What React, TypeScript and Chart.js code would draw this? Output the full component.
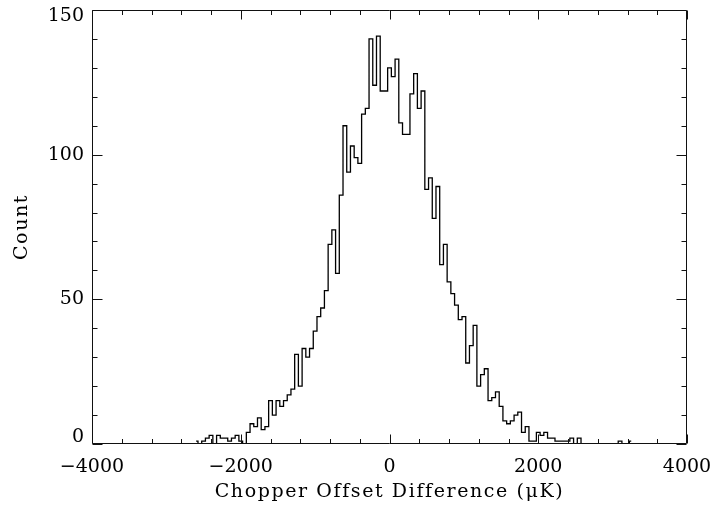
import React, { useEffect, useRef } from 'react';
import { Chart, registerables } from 'chart.js';

Chart.register(...registerables);

// Bin centres (µK) and counts
const binCenters = [
  -2600, -2550, -2500, -2450, -2400, -2350, -2300, -2250, -2200, -2150,
  -2100, -2050, -2000, -1950, -1900, -1850, -1800, -1750, -1700, -1650,
  -1600, -1550, -1500, -1450, -1400, -1350, -1300, -1250, -1200, -1150,
  -1100, -1050, -1000, -950, -900, -850, -800, -750, -700, -650,
  -600, -550, -500, -450, -400, -350, -300, -250, -200, -150,
  -100, -50, 0, 50, 100, 150, 200, 250, 300, 350,
  400, 450, 500, 550, 600, 650, 700, 750, 800, 850,
  900, 950, 1000, 1050, 1100, 1150, 1200, 1250, 1300, 1350,
  1400, 1450, 1500, 1550, 1600, 1650, 1700, 1750, 1800, 1850,
  1900, 1950, 2000, 2050, 2100, 2150, 2200, 2250, 2300, 2350,
  2400, 2450, 2500, 2550, 2600, 2650, 2700, 2750, 2800, 2850,
  2900, 2950, 3000, 3050, 3100, 3150, 3200, 3250,
];

const counts = [
  1, 0, 1, 2, 3, 0, 3, 2, 2, 1,
  2, 3, 1, 0, 4, 7, 6, 9, 5, 6,
  15, 10, 15, 13, 15, 17, 19, 31, 20, 33,
  30, 33, 39, 44, 47, 53, 69, 74, 59, 86,
  110, 94, 103, 99, 97, 114, 116, 140, 124, 141,
  122, 122, 130, 127, 133, 111, 107, 107, 121, 128,
  116, 122, 88, 92, 78, 89, 62, 69, 56, 52,
  48, 43, 44, 28, 34, 41, 20, 24, 26, 15,
  16, 18, 13, 8, 7, 8, 10, 11, 4, 6,
  1, 1, 4, 3, 4, 2, 2, 1, 1, 1,
  1, 2, 0, 2, 0, 0, 0, 0, 0, 0,
  0, 0, 0, 0, 1, 0, 0, 1,
];

const xTicks = [-4000, -2000, 0, 2000, 4000];
const yTicks = [0, 50, 100, 150];
const xMinorStep = 400;
const yMinorStep = 10;
const xTitle = 'Chopper Offset Difference (\u03BCK)';
const yTitle = 'Count';

const FONT = '"DejaVu Serif", serif';

const framePlugin = {
  id: 'idlFrame',
  afterDatasetsDraw(chart: any) {
    const { ctx, chartArea: a, scales } = chart;
    const xs = scales.x;
    const ys = scales.y;
    const L = Math.round(a.left) + 0.5;
    const R = Math.round(a.right) - 0.5;
    const T = Math.round(a.top) + 0.5;
    const B = Math.round(a.bottom) - 0.5;
    ctx.save();
    ctx.strokeStyle = '#111';
    ctx.lineWidth = 1;
    ctx.beginPath();
    ctx.rect(L, T, R - L, B - T);
    // x ticks (bottom and top, inward)
    for (let v = xs.min; v <= xs.max + 1e-6; v += xMinorStep) {
      const major = xTicks.includes(v);
      const len = major ? 9 : 4.5;
      const px = Math.round(xs.getPixelForValue(v)) + 0.5;
      ctx.moveTo(px, B);
      ctx.lineTo(px, B - len);
      ctx.moveTo(px, T);
      ctx.lineTo(px, T + len);
    }
    // y ticks (left and right, inward)
    for (let v = ys.min; v <= ys.max + 1e-6; v += yMinorStep) {
      const major = yTicks.includes(v);
      const len = major ? 10 : 5;
      const py = Math.round(ys.getPixelForValue(v)) + 0.5;
      ctx.moveTo(L, py);
      ctx.lineTo(L + len, py);
      ctx.moveTo(R, py);
      ctx.lineTo(R - len, py);
    }
    ctx.stroke();

    ctx.fillStyle = '#000';
    ctx.font = `19px ${FONT}`;

    // y tick labels, kept inside the frame's vertical extent (IDL style)
    ctx.textAlign = 'right';
    ctx.textBaseline = 'middle';
    for (const v of yTicks) {
      const py = ys.getPixelForValue(v);
      const y = Math.min(Math.max(py, a.top + 6), a.bottom - 7);
      ctx.fillText(String(v), a.left - 8, y);
    }

    // axis titles
    try { (ctx as any).letterSpacing = '1.6px'; } catch (e) { /* ignore */ }
    ctx.textAlign = 'center';
    ctx.textBaseline = 'alphabetic';
    ctx.fillText(xTitle, (a.left + a.right) / 2, 497);
    ctx.translate(27, (a.top + a.bottom) / 2);
    ctx.rotate(-Math.PI / 2);
    ctx.fillText(yTitle, 0, 0);
    ctx.restore();
  },
};

export default function App() {
  const ref = useRef<HTMLCanvasElement>(null);

  useEffect(() => {
    if (!ref.current) return;
    const chart = new Chart(ref.current, {
      type: 'line',
      data: {
        datasets: [
          {
            data: binCenters.map((x, i) => ({ x, y: counts[i] })),
            stepped: 'middle',
            borderColor: '#000',
            borderWidth: 1.3,
            pointRadius: 0,
            fill: false,
          } as any,
        ],
      },
      options: {
        responsive: false,
        animation: false,
        devicePixelRatio: 1,
        layout: { padding: { top: 10, right: 28, left: 0, bottom: 0 } },
        plugins: { legend: { display: false }, tooltip: { enabled: false } },
        scales: {
          x: {
            type: 'linear',
            min: -4000,
            max: 4000,
            afterBuildTicks: (s: any) => {
              s.ticks = xTicks.map((v) => ({ value: v }));
            },
            ticks: {
              font: { family: FONT, size: 19 },
              color: '#000',
              padding: 12,
              maxRotation: 0,
              autoSkip: false,
              callback: (v: any) => String(v).replace('-', '\u2212'),
            },
            grid: { display: false, drawTicks: false },
            border: { display: false },
            afterFit: (s: any) => {
              s.height = 63;
              s.paddingLeft = 0;
              s.paddingRight = 0;
            },
          },
          y: {
            type: 'linear',
            min: 0,
            max: 150,
            afterBuildTicks: (s: any) => {
              s.ticks = yTicks.map((v) => ({ value: v }));
            },
            ticks: { display: false },
            grid: { display: false, drawTicks: false },
            border: { display: false },
            afterFit: (s: any) => {
              s.width = 92;
              s.paddingTop = 0;
              s.paddingBottom = 0;
            },
          },
        },
      } as any,
      plugins: [framePlugin],
    });
    return () => chart.destroy();
  }, []);

  return (
    <div style={{ position: 'fixed', left: 0, top: 0, width: 715, height: 507, background: '#fff' }}>
      <canvas ref={ref} width={715} height={507} style={{ display: 'block', width: 715, height: 507 }} />
    </div>
  );
}
